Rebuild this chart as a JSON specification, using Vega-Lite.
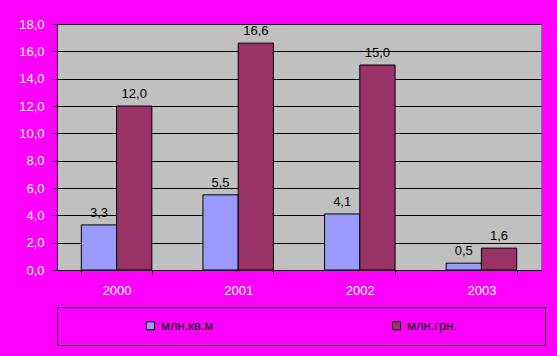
{
  "$schema": "https://vega.github.io/schema/vega-lite/v6.json",
  "width": 484,
  "height": 246,
  "autosize": {"type": "none"},
  "padding": {"left": 57, "top": 24, "right": 16, "bottom": 86},
  "background": "#FF00FF",
  "config": {
    "locale": {"number": {"decimal": ",", "thousands": "\u00a0", "grouping": [3], "currency": ["", ""]}},
    "font": "Liberation Sans",
    "view": {"fill": "#C0C0C0", "stroke": "#808080", "strokeWidth": 1}
  },
  "data": {"values": [
    {"year": "2000", "series": "млн.кв.м", "value": 3.3},
    {"year": "2000", "series": "млн.грн.", "value": 12.0},
    {"year": "2001", "series": "млн.кв.м", "value": 5.5},
    {"year": "2001", "series": "млн.грн.", "value": 16.6},
    {"year": "2002", "series": "млн.кв.м", "value": 4.1},
    {"year": "2002", "series": "млн.грн.", "value": 15.0},
    {"year": "2003", "series": "млн.кв.м", "value": 0.5},
    {"year": "2003", "series": "млн.грн.", "value": 1.6}
  ]},
  "encoding": {
    "x": {
      "field": "year", "type": "nominal",
      "scale": {"paddingInner": 0.42, "paddingOuter": 0.2},
      "axis": {"title": null, "labelAngle": 0, "labelColor": "white", "labelFontSize": 13, "tickBand": "extent", "tickColor": "black", "tickSize": 5, "domainColor": "black", "labelPadding": 9, "grid": false}
    },
    "xOffset": {"field": "series", "type": "nominal", "sort": ["млн.кв.м", "млн.грн."]},
    "y": {
      "field": "value", "type": "quantitative",
      "scale": {"domain": [0, 18], "nice": false},
      "axis": {"title": null, "values": [0, 2, 4, 6, 8, 10, 12, 14, 16, 18], "format": ".1f", "labelColor": "white", "labelFontSize": 13, "tickColor": "black", "tickSize": 5, "labelPadding": 8, "domainColor": "black", "gridColor": "black", "gridOpacity": 1}
    }
  },
  "layer": [
    {
      "mark": {"type": "bar", "stroke": "black", "strokeWidth": 1},
      "encoding": {
        "color": {
          "field": "series", "type": "nominal",
          "scale": {"domain": ["млн.кв.м", "млн.грн."], "range": ["#9999FF", "#993366"]},
          "legend": {
            "title": null, "orient": "none", "legendX": 0, "legendY": 283,
            "direction": "horizontal", "columns": 2, "padding": 12,
            "fillColor": "#FF00FF", "strokeColor": "black",
            "symbolType": "square", "symbolSize": 64, "symbolStrokeColor": "black", "symbolStrokeWidth": 1,
            "symbolOffset": 75, "labelOffset": 4, "columnPadding": 101, "labelLimit": 300,
            "labelFontSize": 13, "labelColor": "black",
            "labelExpr": "datum.label == 'млн.грн.' ? datum.label + '\u00a0\u00a0\u00a0\u00a0\u00a0\u00a0\u00a0\u00a0\u00a0\u00a0\u00a0\u00a0\u00a0\u00a0\u00a0\u00a0\u00a0\u00a0\u2800' : datum.label"
          }
        }
      }
    },
    {
      "mark": {"type": "text", "baseline": "bottom", "dy": -5, "fontSize": 13, "color": "black"},
      "encoding": {"text": {"field": "value", "type": "quantitative", "format": ".1f"}}
    }
  ]
}
